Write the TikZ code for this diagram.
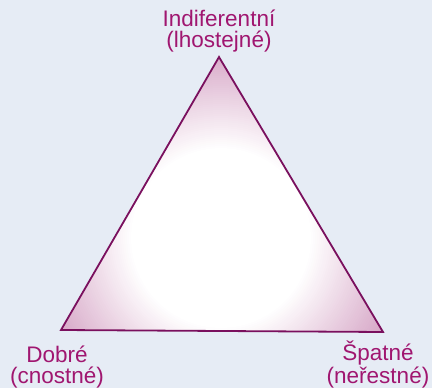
\documentclass[tikz,border=0pt]{standalone}
\usepackage{fontspec}
\setmainfont{Liberation Sans}
\usepackage{xcolor}
\usetikzlibrary{positioning,calc}

\definecolor{bgblue}{RGB}{230,236,245}
\definecolor{tripurple}{RGB}{172,74,140}
\definecolor{edgepurple}{RGB}{122,16,94}
\definecolor{textpurple}{RGB}{160,22,112}

\begin{document}
\begin{tikzpicture}[x=1pt,y=-1pt,
    edge/.style={draw=edgepurple,line width=1.8pt,line join=miter},
    lbl/.style={text=textpurple,font=\fontsize{22.5}{21}\selectfont,align=center,anchor=base,inner sep=0pt}
    ]

    % background
    \fill[bgblue] (0,0) rectangle (432,388);
    \useasboundingbox (0,0) rectangle (432,388);

    \coordinate (top) at (219,57);
    \coordinate (left) at (61,330);
    \coordinate (right) at (383,332);
    \coordinate (cen) at (221,238);

    % shaded triangle: rings from the corners in to the white middle
    \begin{scope}
      \clip (top) -- (left) -- (right) -- cycle;
      \fill[tripurple] (top) -- (left) -- (right) -- cycle;
      \foreach \r in {50,49,...,0}
        \fill[tripurple!\r!white] (cen) circle ({90+2*\r});
    \end{scope}
    \draw[edge] (top) -- (left) -- (right) -- cycle;

    \node[lbl] (indif) at (219,48) {Indiferentní\\(lhostejné)};
    \node[lbl] (good) at (57,383) {Dobré\\(cnostné)};
    \node[lbl] (bad) at (378,383) {Špatné\\(neřestné)};

  \end{tikzpicture}
\end{document}
